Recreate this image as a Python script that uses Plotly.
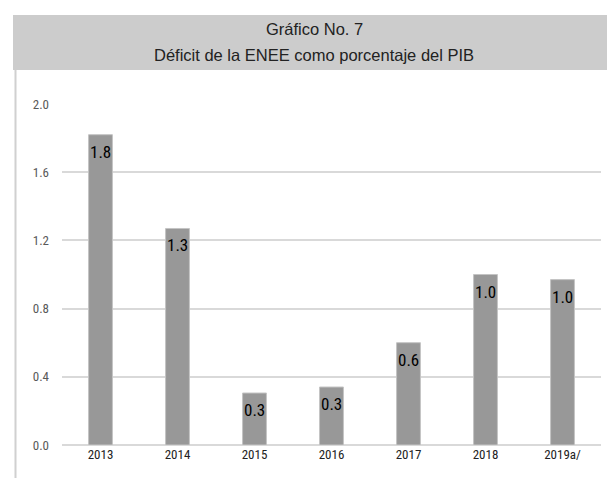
import plotly.graph_objects as go

years = ['2013', '2014', '2015', '2016', '2017', '2018', '2019a/']
deficit = [1.82, 1.27, 0.305, 0.34, 0.60, 1.00, 0.97]
y_ticks = [0.0, 0.4, 0.8, 1.2, 1.6, 2.0]

title_lines = ['Gráfico No. 7', 'Déficit de la ENEE como porcentaje del PIB']

font_narrow = 'Roboto Condensed, Liberation Sans Narrow, Arial Narrow, DejaVu Sans Condensed, sans-serif'
font_title = 'Liberation Sans, Arial, sans-serif'

# page body adds an 8px margin, so reference pixel positions are shifted by it
OFF = 8
W, H = 615, 478
L, R, T, B = 54, 22, 96, 41
pw, ph = W - L - R, H - T - B


def px_x(p):
    return (p - OFF - L) / pw


def px_y(p):
    return (H - B - (p - OFF)) / ph


fig = go.Figure()

fig.add_trace(go.Bar(
    x=years,
    y=deficit,
    marker=dict(color='#989898', line=dict(color='#c4c4c4', width=1)),
    hoverinfo='x+y',
))

# data labels, inside near the top of each bar (x by category index)
for i, v in enumerate(deficit):
    fig.add_annotation(
        x=i, y=v, text=f'{v:.1f}', showarrow=False,
        yanchor='middle', yshift=-17,
        font=dict(family=font_narrow, size=17, color='#000000'),
    )

# header band and left frame line
fig.add_shape(type='rect', xref='paper', yref='paper',
              x0=px_x(13), x1=px_x(W + 20), y0=px_y(70), y1=px_y(15),
              fillcolor='#cccccc', line=dict(width=0), layer='below')
fig.add_shape(type='line', xref='paper', yref='paper',
              x0=px_x(15.5), x1=px_x(15.5), y0=px_y(70), y1=px_y(H + 20),
              line=dict(color='#d0d0d0', width=2))

fig.add_annotation(xref='paper', yref='paper', x=px_x(314), y=px_y(29),
                   text=title_lines[0], showarrow=False, yanchor='middle',
                   font=dict(family=font_title, size=16.5, color='#222222'))
fig.add_annotation(xref='paper', yref='paper', x=px_x(314), y=px_y(55),
                   text=title_lines[1], showarrow=False, yanchor='middle',
                   font=dict(family=font_title, size=16.5, color='#222222'))

fig.update_xaxes(
    type='category', range=[-0.5, len(years) - 0.5],
    showline=False, ticks='',
    tickfont=dict(family=font_narrow, size=13, color='#222222'),
)
fig.update_yaxes(
    range=[0, 2.0], tickvals=y_ticks, tickformat='.1f',
    showgrid=True, gridcolor='#d9d9d9', gridwidth=1.5,
    zeroline=True, zerolinecolor='#d9d9d9', zerolinewidth=1.5,
    ticks='', ticklabelstandoff=12,
    tickfont=dict(family=font_narrow, size=13, color='#595959'),
)

fig.update_layout(
    width=W, height=H,
    margin=dict(l=L, r=R, t=T, b=B, autoexpand=False),
    plot_bgcolor='white', paper_bgcolor='white',
    bargap=0.69,
    showlegend=False,
)

fig.write_html('out.html')
